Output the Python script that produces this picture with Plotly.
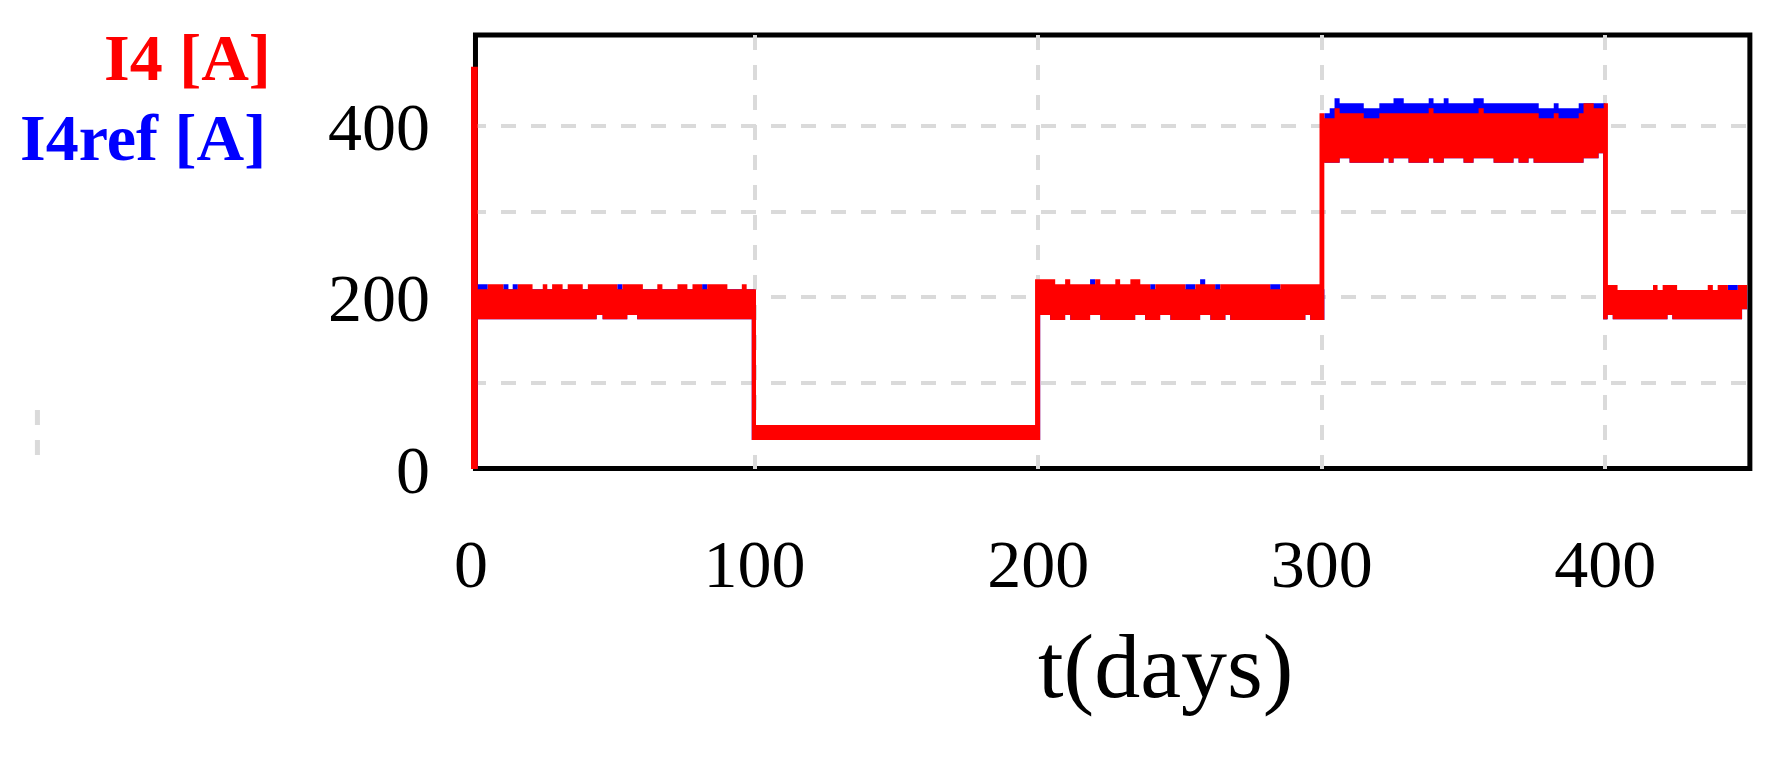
import plotly.graph_objects as go

# I4 [A] band: upper / lower edges (step data, t in days)
t_upper = [0, 2.4, 5.9, 11.4, 16.5, 21.7, 25.3, 26.9, 28.6, 32.3, 34.1, 39.4, 41.2, 51.6, 53.4,
           60.6, 65.7, 67.5, 72.8, 76.3, 78.1, 81.5, 83.3, 90.4, 95.5, 97.2, 100.5,
           198.9, 206.0, 209.5, 211.3, 220.1, 221.9, 227.2, 228.9, 232.5, 236.0, 239.5, 241.3,
           251.9, 255.4, 262.4, 264.2, 281.8, 285.4,
           299.2, 300.9, 304.5, 306.3, 314.8, 320.3, 337.7, 339.4, 355.3, 357.1, 376.5, 381.8,
           383.5, 390.6, 392.3, 395.9, 399.4,
           400.9, 404.3, 416.8, 418.4, 420.2, 425.3, 436.1, 437.9, 439.6, 443.2, 446.7, 450]
i4_upper = [469, 209.5, 215.4, 209.5, 215.4, 209.5, 215.4, 209.5, 215.4, 209.5, 215.4, 209.5, 215.4, 209.5, 215.4,
            209.5, 215.4, 209.5, 215.4, 209.5, 215.4, 209.5, 215.4, 209.5, 215.4, 209.5, 51.3,
            221.2, 215.4, 221.2, 215.4, 221.2, 215.4, 221.2, 215.4, 221.2, 215.4, 209.6, 215.4,
            209.6, 215.4, 209.6, 215.4, 209.6, 215.4,
            414.8, 409.0, 420.6, 414.8, 409.0, 414.8, 420.6, 414.8, 420.6, 414.8, 409.0, 414.8,
            409.0, 414.8, 426.4, 420.6, 426.4,
            214.6, 208.7, 214.6, 208.7, 214.6, 208.7, 214.6, 208.7, 214.6, 208.7, 214.6, 214.6]

t_lower = [0, 2.4, 44.3, 46.4, 55.1, 58.6, 99.0,
           200.7, 204.2, 209.5, 211.3, 218.3, 221.9, 234.2, 237.7, 243.0, 246.6, 257.1, 260.7,
           266.0, 267.7, 294.2, 295.9,
           300.9, 306.3, 309.8, 321.8, 323.6, 325.3, 330.6, 337.7, 339.4, 343.0, 350.0, 353.5,
           360.6, 367.6, 369.4, 372.9, 374.7, 392.3, 397.6,
           399.2, 400.8, 402.6, 421.9, 423.6, 448.2, 450]
i4_lower = [0, 174.5, 179.6, 174.5, 179.6, 174.5, 33.8,
            179.6, 173.8, 179.6, 173.8, 179.6, 173.8, 179.6, 173.8, 179.6, 173.8, 179.6, 173.8,
            179.6, 173.8, 179.6, 173.8,
            357.2, 362.3, 357.2, 362.3, 357.2, 362.3, 357.2, 362.3, 357.2, 362.3, 357.2, 362.3,
            357.2, 362.3, 357.2, 362.3, 357.2, 362.3, 368.2,
            174.6, 179.6, 174.6, 179.6, 174.6, 186.2, 186.2]

# I4ref [A]: top edge (only visible where it pokes above I4)
t_ref = [0, 5.9, 11.4, 13.2, 14.7, 16.5, 51.6, 53.4, 81.5, 83.3, 100.0,
         200.0, 218.3, 220.1, 239.5, 241.3, 251.9, 255.4, 257.1, 258.9, 262.4, 264.2, 281.8, 285.4,
         300.9, 302.8, 304.5, 306.3, 314.8, 320.3, 325.3, 328.9, 337.7, 339.4, 343.0, 344.7,
         353.5, 357.1, 376.5, 381.8, 383.5, 390.6,
         400.0, 443.2, 446.7, 450]
i4ref = [215.4, 209.5, 215.4, 209.5, 215.4, 209.5, 215.4, 209.5, 215.4, 209.5, 45,
         209.6, 221.2, 209.6, 215.4, 209.6, 215.4, 209.6, 221.2, 209.6, 215.4, 209.6, 215.4, 209.6,
         414.8, 420.6, 432.3, 426.4, 420.6, 426.4, 432.3, 426.4, 432.3, 426.4, 432.3, 426.4,
         432.3, 426.4, 420.6, 426.4, 420.6, 426.4,
         208.7, 214.6, 208.7, 208.7]

x_ticks = [0, 100, 200, 300, 400]
x_grid = [100, 200, 300, 400]
y_ticks = [0, 200, 400]
y_grid = [100, 200, 300, 400]

RED = '#ff0000'
BLUE = '#0000ff'
GRID = '#dadada'
serif = 'Liberation Serif, Times New Roman, serif'

fig = go.Figure()

# blue band (ref), bottom hidden under the red one
fig.add_trace(go.Scatter(x=t_lower, y=i4_lower, mode='lines', line=dict(width=0, shape='hv'),
                         hoverinfo='skip', showlegend=False))
fig.add_trace(go.Scatter(x=t_ref, y=i4ref, mode='lines', line=dict(width=0, shape='hv'),
                         fill='tonexty', fillcolor=BLUE, name='I4ref [A]', showlegend=False))
# red band (I4)
fig.add_trace(go.Scatter(x=t_lower, y=i4_lower, mode='lines', line=dict(width=0, shape='hv'),
                         hoverinfo='skip', showlegend=False))
fig.add_trace(go.Scatter(x=t_upper, y=i4_upper, mode='lines', line=dict(width=0, shape='hv'),
                         fill='tonexty', fillcolor=RED, name='I4 [A]', showlegend=False))

fig.update_xaxes(
    range=[0, 451], tickvals=x_ticks, ticks='', showline=False, zeroline=False, showgrid=False,
    ticklabelstandoff=49,
    tickfont=dict(family=serif, size=68, color='black'),
    minor=dict(tickvals=x_grid, showgrid=True, gridcolor=GRID, gridwidth=4, griddash='15px,15px'),
)
fig.update_yaxes(
    range=[0, 506], tickvals=y_ticks, ticks='', showline=False, zeroline=False, showgrid=False,
    ticklabelstandoff=40,
    tickfont=dict(family=serif, size=68, color='black'),
    minor=dict(tickvals=y_grid, showgrid=True, gridcolor=GRID, gridwidth=4, griddash='15px,15px'),
)

# plot frame
fig.add_shape(type='rect', xref='paper', yref='paper', x0=0.0035, x1=0.9999, y0=0.001, y1=1.0,
              line=dict(color='black', width=5), layer='below')
# stray grid dash left of the labels
fig.add_shape(type='line', xref='paper', yref='paper', x0=-0.339, x1=-0.339, y0=0.136, y1=0.030,
              line=dict(color=GRID, width=5, dash='15px,15px'))

fig.add_annotation(text='<b>I4 [A]</b>', xref='paper', yref='paper', x=-0.155, y=0.949,
                   xanchor='right', yanchor='middle', showarrow=False,
                   font=dict(family=serif, size=66, color=RED))
fig.add_annotation(text='<b>I4ref [A]</b>', xref='paper', yref='paper', x=-0.159, y=0.763,
                   xanchor='right', yanchor='middle', showarrow=False,
                   font=dict(family=serif, size=66, color=BLUE))
fig.add_annotation(text='t(days)', xref='x', yref='paper', x=244.8, y=-0.455,
                   xanchor='center', yanchor='middle', showarrow=False,
                   font=dict(family=serif, size=92, color='black'))

fig.update_layout(
    width=1779, height=759,
    margin=dict(l=471, r=29, t=35, b=290),
    plot_bgcolor='white',
    paper_bgcolor='white',
)

fig.write_html("out.html", config={'displayModeBar': False},
               post_script="document.body.style.margin='0';")
